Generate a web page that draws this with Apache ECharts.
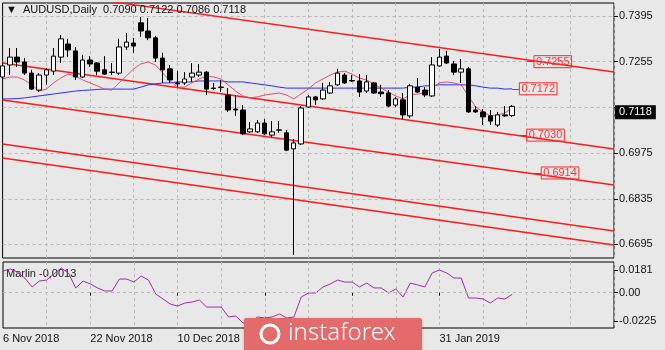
<!DOCTYPE html>
<html>
<head>
<meta charset="utf-8">
<script src="https://cdn.jsdelivr.net/npm/echarts@6/dist/echarts.min.js"></script>
<style>
  html, body { margin: 0; padding: 0; background: #e8e8e8; }
  #chart { width: 665px; height: 350px; }
</style>
</head>
<body>
<div id="chart"></div>
<script>
// AUDUSD daily bars
const symbolName = 'AUDUSD,Daily';
const dates = [
  '6 Nov 2018','7 Nov 2018','8 Nov 2018','9 Nov 2018','12 Nov 2018','13 Nov 2018','14 Nov 2018','15 Nov 2018','16 Nov 2018','19 Nov 2018',
  '20 Nov 2018','21 Nov 2018','22 Nov 2018','23 Nov 2018','26 Nov 2018','27 Nov 2018','28 Nov 2018','29 Nov 2018','30 Nov 2018','3 Dec 2018',
  '4 Dec 2018','5 Dec 2018','6 Dec 2018','7 Dec 2018','10 Dec 2018','11 Dec 2018','12 Dec 2018','13 Dec 2018','14 Dec 2018','17 Dec 2018',
  '18 Dec 2018','19 Dec 2018','20 Dec 2018','21 Dec 2018','24 Dec 2018','26 Dec 2018','27 Dec 2018','28 Dec 2018','31 Dec 2018','2 Jan 2019',
  '3 Jan 2019','4 Jan 2019','7 Jan 2019','8 Jan 2019','9 Jan 2019','10 Jan 2019','11 Jan 2019','14 Jan 2019','15 Jan 2019','16 Jan 2019',
  '17 Jan 2019','18 Jan 2019','21 Jan 2019','22 Jan 2019','23 Jan 2019','24 Jan 2019','25 Jan 2019','28 Jan 2019','29 Jan 2019','30 Jan 2019',
  '31 Jan 2019','1 Feb 2019','4 Feb 2019','5 Feb 2019','6 Feb 2019','7 Feb 2019','8 Feb 2019','11 Feb 2019','12 Feb 2019','13 Feb 2019',
  '14 Feb 2019'
];
const emptySlots = 14; // free space to the right of the last bar

const opens = [
  0.7208,0.7245,0.7269,0.7254,0.7220,0.7168,0.7214,0.7226,0.7269,0.7309,
  0.7288,0.7208,0.7260,0.7251,0.7230,0.7223,0.7220,0.7300,0.7312,0.7374,
  0.7349,0.7328,0.7266,0.7233,0.7190,0.7190,0.7208,0.7214,0.7223,0.7174,
  0.7177,0.7153,0.7110,0.7107,0.7040,0.7040,0.7067,0.7030,0.7045,0.7037,
  0.6988,0.7003,0.7116,0.7147,0.7141,0.7159,0.7184,0.7214,0.7197,0.7196,
  0.7165,0.7190,0.7162,0.7159,0.7122,0.7138,0.7089,0.7177,0.7168,0.7150,
  0.7242,0.7272,0.7248,0.7223,0.7233,0.7107,0.7101,0.7089,0.7061,0.7092,
  0.7090
];
const closes = [
  0.7242,0.7269,0.7254,0.7220,0.7171,0.7214,0.7230,0.7272,0.7325,0.7291,
  0.7208,0.7260,0.7248,0.7226,0.7217,0.7222,0.7300,0.7315,0.7303,0.7349,
  0.7328,0.7266,0.7230,0.7199,0.7187,0.7202,0.7220,0.7223,0.7171,0.7173,
  0.7176,0.7107,0.7107,0.7034,0.7049,0.7067,0.7034,0.7040,0.7046,0.6984,
  0.7006,0.7113,0.7147,0.7138,0.7168,0.7181,0.7220,0.7190,0.7196,0.7162,
  0.7193,0.7159,0.7157,0.7119,0.7141,0.7092,0.7181,0.7162,0.7153,0.7245,
  0.7269,0.7251,0.7223,0.7233,0.7101,0.7101,0.7086,0.7073,0.7092,0.7089,
  0.7118
];
const lows = [
  0.7199,0.7214,0.7239,0.7214,0.7168,0.7162,0.7184,0.7214,0.7251,0.7269,
  0.7199,0.7205,0.7239,0.7214,0.7214,0.7214,0.7214,0.7291,0.7282,0.7331,
  0.7321,0.7254,0.7190,0.7190,0.7177,0.7184,0.7193,0.7208,0.7153,0.7168,
  0.7162,0.7101,0.7089,0.7030,0.7037,0.7037,0.7030,0.7024,0.7037,0.6981,
  0.6663,0.7000,0.7113,0.7122,0.7138,0.7156,0.7181,0.7187,0.7193,0.7147,
  0.7159,0.7156,0.7147,0.7116,0.7116,0.7079,0.7082,0.7159,0.7147,0.7147,
  0.7239,0.7248,0.7214,0.7190,0.7098,0.7098,0.7061,0.7061,0.7055,0.7086,
  0.7086
];
const highs = [
  0.7251,0.7297,0.7297,0.7266,0.7230,0.7220,0.7236,0.7297,0.7337,0.7325,
  0.7300,0.7276,0.7272,0.7254,0.7272,0.7251,0.7325,0.7343,0.7328,0.7392,
  0.7389,0.7334,0.7282,0.7245,0.7226,0.7223,0.7251,0.7248,0.7226,0.7190,
  0.7199,0.7174,0.7153,0.7122,0.7070,0.7076,0.7079,0.7073,0.7073,0.7046,
  0.7018,0.7119,0.7153,0.7150,0.7190,0.7193,0.7233,0.7220,0.7214,0.7217,
  0.7214,0.7193,0.7184,0.7168,0.7147,0.7159,0.7187,0.7205,0.7177,0.7269,
  0.7294,0.7288,0.7257,0.7263,0.7239,0.7119,0.7110,0.7107,0.7101,0.7119,
  0.7122
];

// moving averages drawn over the bars
const fastMA = [
  0.7202,0.7208,0.7208,0.7199,0.7184,0.7165,0.7171,0.7190,0.7205,0.7217,
  0.7211,0.7199,0.7190,0.7181,0.7171,0.7168,0.7190,0.7211,0.7233,0.7248,
  0.7254,0.7245,0.7220,0.7196,0.7177,0.7177,0.7190,0.7202,0.7211,0.7208,
  0.7202,0.7184,0.7165,0.7150,0.7144,0.7147,0.7153,0.7156,0.7159,0.7153,
  0.7141,0.7156,0.7171,0.7190,0.7202,0.7214,0.7223,0.7226,0.7217,0.7205,
  0.7199,0.7187,0.7174,0.7162,0.7150,0.7141,0.7153,0.7156,0.7159,0.7174,
  0.7190,0.7193,0.7190,0.7184,0.7150,0.7116,0.7101,0.7089,0.7092,0.7098,
  0.7113
];
const slowMA = [
  0.7141,0.7141,0.7142,0.7144,0.7147,0.7150,0.7153,0.7156,0.7159,0.7162,
  0.7165,0.7167,0.7168,0.7170,0.7171,0.7171,0.7171,0.7171,0.7171,0.7177,
  0.7184,0.7187,0.7190,0.7190,0.7193,0.7193,0.7193,0.7196,0.7196,0.7196,
  0.7196,0.7193,0.7193,0.7193,0.7190,0.7187,0.7184,0.7181,0.7177,0.7174,
  0.7174,0.7174,0.7174,0.7174,0.7174,0.7174,0.7174,0.7174,0.7174,0.7174,
  0.7174,0.7174,0.7174,0.7174,0.7174,0.7174,0.7177,0.7177,0.7181,0.7181,
  0.7184,0.7184,0.7184,0.7184,0.7184,0.7181,0.7177,0.7174,0.7174,0.7171,
  0.7172
];

// Marlin oscillator
const marlin = [
  0.0173,0.0189,0.0165,0.0117,0.0046,0.0093,0.0101,0.0149,0.0197,0.0157,
  0.0038,0.0093,0.0070,0.0038,0.0014,0.0014,0.0109,0.0109,0.0085,0.0133,
  0.0101,-0.0010,-0.0050,-0.0090,-0.0106,-0.0082,-0.0074,-0.0058,-0.0114,-0.0114,
  -0.0114,-0.0193,-0.0185,-0.0241,-0.0233,-0.0193,-0.0201,-0.0193,-0.0169,-0.0201,
  -0.0193,-0.0034,-0.0002,-0.0002,0.0046,0.0070,0.0101,0.0085,0.0085,0.0046,
  0.0077,0.0038,0.0038,-0.0002,0.0030,-0.0034,0.0077,0.0062,0.0046,0.0157,
  0.0181,0.0157,0.0117,0.0117,-0.0042,-0.0042,-0.0050,-0.0082,-0.0042,-0.0050,
  -0.0013
];

// descending channel: [price at first slot, price at last slot]
const channelLines = [
  [0.74857, 0.72234],
  [0.72510, 0.69875],
  [0.71376, 0.68772],
  [0.70028, 0.67362],
  [0.69599, 0.66933]
];

// price tags: level, slot where the lead-in dash starts and ends
const priceTags = [
  { price: 0.7255, from: 72.2, to: 73.4 },
  { price: 0.7172, from: 70.1, to: 71.4 },
  { price: 0.7030, from: 71.1, to: 72.3 },
  { price: 0.6914, from: 73.1, to: 74.4 }
];

const priceTicks = [0.7395, 0.7255, 0.7115, 0.6975, 0.6835, 0.6695];
const priceLabels = [0.7395, 0.7255, 0.6975, 0.6835, 0.6695];
const marlinTicks = [0.0181, 0, -0.0225];

const FONT = '"Liberation Sans", Arial, sans-serif';
const N = dates.length;
const categories = dates.concat(new Array(emptySlots).fill(''));
const lastSlot = categories.length - 1;
const candles = opens.map((o, i) => [o, closes[i], lows[i], highs[i]]);
const last = N - 1;
const fmt4 = v => v.toFixed(4);

const gridDash = { color: '#b8b8b8', type: [3, 3], width: 1 };

const chart = echarts.init(document.getElementById('chart'), null, { renderer: 'canvas' });

const series = [];

channelLines.forEach((c, k) => {
  series.push({
    name: 'channel' + k, type: 'line', xAxisIndex: 0, yAxisIndex: 0,
    data: [[0, c[0]], [lastSlot, c[1]]],
    showSymbol: false, silent: true, clip: true, z: 3,
    lineStyle: { color: '#ff1a1a', width: 1.4 }
  });
});

series.push({
  name: 'slow', type: 'line', data: slowMA, showSymbol: false, silent: true, z: 4,
  lineStyle: { color: '#2b2bff', width: 1 }
});
series.push({
  name: 'fast', type: 'line', data: fastMA, showSymbol: false, silent: true, z: 4,
  lineStyle: { color: '#e0506e', width: 1 }
});

series.push({
  name: symbolName, type: 'candlestick', data: candles, barWidth: 5, clip: true, z: 5,
  itemStyle: { color: '#ffffff', color0: '#000000', borderColor: '#000000', borderColor0: '#000000', borderWidth: 1 }
});

// last close marker on the price scale
series.push({
  name: 'lastClose', type: 'line', data: [], silent: true, z: 7,
  markLine: {
    silent: true, symbol: 'none', animation: false,
    lineStyle: { color: 'rgba(0,0,0,0)', width: 0 },
    label: {
      show: true, position: 'end', distance: 1,
      formatter: () => fmt4(closes[last]),
      color: '#ffffff', backgroundColor: '#000000',
      fontFamily: FONT, fontSize: 11, padding: [2, 4, 1, 4]
    },
    data: [{ yAxis: closes[last] }]
  }
});

// level tags with a short lead-in dash
priceTags.forEach((t, k) => {
  series.push({
    name: 'tag' + k, type: 'line', data: [], silent: true, z: 6,
    markLine: {
      silent: true, symbol: 'none', animation: false,
      lineStyle: { color: '#ff1a1a', width: 1, type: 'solid' },
      label: {
        show: true, position: 'end', distance: 0,
        formatter: () => fmt4(t.price),
        color: '#ff3333', borderColor: '#ff2a2a', borderWidth: 1,
        fontFamily: FONT, fontSize: 11, padding: [1, 2, 0, 2]
      },
      data: [[{ coord: [t.from, t.price] }, { coord: [t.to, t.price] }]]
    }
  });
});

series.push({
  name: 'Marlin', type: 'line', xAxisIndex: 1, yAxisIndex: 1, data: marlin,
  showSymbol: false, silent: true,
  lineStyle: { color: '#a22ca8', width: 1 },
  markLine: {
    silent: true, symbol: 'none', animation: false, label: { show: false },
    lineStyle: { color: '#b8b8b8', type: [3, 3], width: 1 },
    data: [{ yAxis: 0 }]
  }
});

const option = {
  animation: false,
  backgroundColor: '#e8e8e8',
  textStyle: { fontFamily: FONT },
  title: {
    text: '\u25BC  ' + symbolName + '  ' + [opens[last], highs[last], lows[last], closes[last]].map(fmt4).join(' '),
    left: 6, top: 4, padding: 0,
    textStyle: { fontSize: 11, fontWeight: 'normal', color: '#111', fontFamily: FONT }
  },
  grid: [
    { left: 2.6, right: 51, top: 3, bottom: 92, show: true, borderColor: '#000', borderWidth: 1, backgroundColor: 'transparent' },
    { left: 2.6, right: 51, top: 262, bottom: 22, show: true, borderColor: '#000', borderWidth: 1, backgroundColor: 'transparent' }
  ],
  xAxis: [
    {
      type: 'category', gridIndex: 0, data: categories, boundaryGap: false,
      axisLine: { show: false }, axisTick: { show: false }, axisLabel: { show: false },
      splitLine: { show: true, interval: i => i > 0 && i % 6 === 0, lineStyle: gridDash }
    },
    {
      type: 'category', gridIndex: 1, data: categories, boundaryGap: false,
      axisLine: { show: false },
      axisTick: { show: true, length: 3, interval: (i, v) => v !== '' && i % 12 === 0 && i > 0, lineStyle: { color: '#000' } },
      axisLabel: {
        show: true, interval: (i, v) => v !== '' && i % 12 === 0, align: 'left', margin: 5,
        color: '#111', fontSize: 11, fontFamily: FONT
      },
      splitLine: { show: true, interval: i => i > 0 && i % 6 === 0, lineStyle: gridDash }
    }
  ],
  yAxis: [
    {
      type: 'value', gridIndex: 0, position: 'right', min: 0.66535, max: 0.74348, scale: true,
      axisLine: { show: false },
      axisTick: { show: true, length: 4, customValues: priceTicks, lineStyle: { color: '#000' } },
      axisLabel: { show: true, customValues: priceLabels, formatter: v => fmt4(v), margin: 5, color: '#111', fontSize: 11, fontFamily: FONT },
      splitLine: { show: true, lineStyle: gridDash }
    },
    {
      type: 'value', gridIndex: 1, position: 'right', min: -0.02808, max: 0.02447,
      axisLine: { show: false },
      axisTick: { show: true, length: 4, customValues: marlinTicks, lineStyle: { color: '#000' } },
      axisLabel: { show: true, customValues: marlinTicks, formatter: v => (v === 0 ? '0.00' : fmt4(v)), margin: 5, color: '#111', fontSize: 11, fontFamily: FONT },
      splitLine: { show: false }
    }
  ],
  graphic: [
    {
      type: 'text', left: 6, top: 268, silent: true,
      style: { text: 'Marlin ' + marlin[last].toFixed(4).replace('.', ','), fill: '#222', font: '11px ' + FONT }
    },
    {
      type: 'group', left: 244, top: 318, zlevel: 5, z: 100, silent: true,
      children: [
        { type: 'rect', z: 100, zlevel: 5, shape: { x: 0, y: 0, width: 178, height: 34, r: 2 }, style: { fill: '#e36b6b', shadowBlur: 3, shadowColor: 'rgba(0,0,0,0.25)', shadowOffsetY: 1 } },
        { type: 'circle', z: 101, zlevel: 5, shape: { cx: 26, cy: 16, r: 9 }, style: { fill: 'none', stroke: '#fff', lineWidth: 3 } },
        { type: 'text', z: 101, zlevel: 5, x: 44, y: 3, style: { text: 'instaforex', fill: '#fff', font: '300 24px "Noto Sans", sans-serif' } }
      ]
    }
  ],
  series: series
};

chart.setOption(option);
</script>
</body>
</html>
